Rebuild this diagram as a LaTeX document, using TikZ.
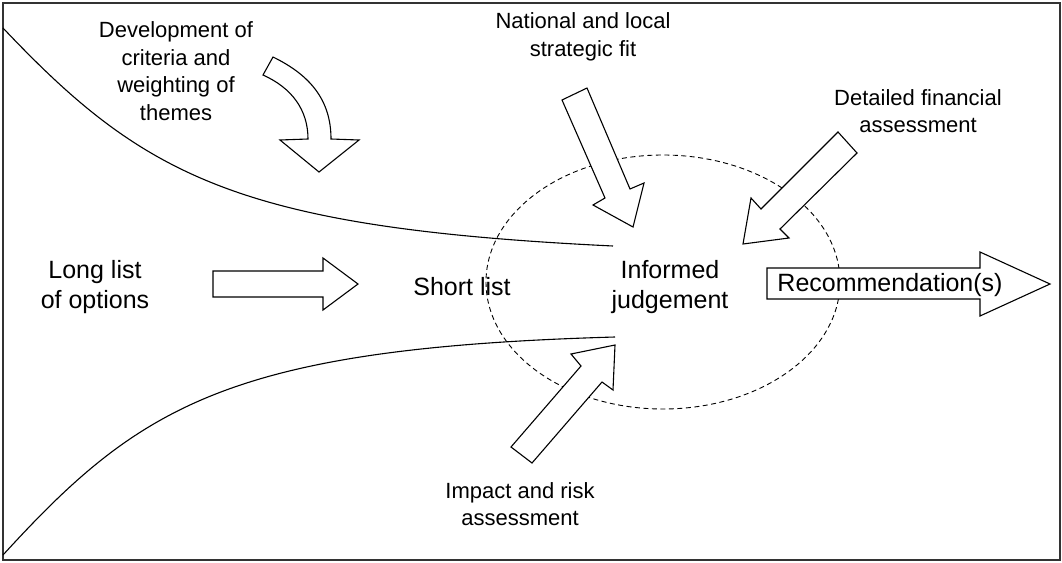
\documentclass[tikz,border=0pt]{standalone}
\usepackage{fontspec}
\setmainfont{Liberation Sans}
\begin{document}
\begin{tikzpicture}[x=1pt,y=-1pt,line join=miter,
  blockarrow/.style={draw,fill=white,line width=1.1pt},
  flow/.style={line width=1.1pt},
  zone/.style={line width=0.9pt,dash pattern=on 5pt off 3.5pt},
  lbl/.style={align=center,inner sep=0pt,font=\fontsize{22}{27.5}\selectfont},
  big/.style={align=center,inner sep=0pt,font=\fontsize{25}{30}\selectfont}]
\useasboundingbox (0,0) rectangle (1062,562);
\draw[line width=1.6pt,draw=black!80] (3,3) rectangle (1060,560);

% dashed zone
\draw[zone] (663,282) ellipse [x radius=177,y radius=127];

% funnel curves
\coordinate (tl) at (3,28);
\coordinate (te) at (613,246);
\coordinate (bl) at (3,555);
\coordinate (be) at (615,337);
\draw[flow] (tl) .. controls (145,178) and (240,228) .. (te);
\draw[flow] (bl) .. controls (140,405) and (230,348) .. (be);

% curved arrow
\draw[blockarrow] (273,57) .. controls (310,75) and (331,100) .. (331,139)
  -- (359,140) -- (319,172) -- (280,140) -- (308,139)
  .. controls (308,110) and (292,88) .. (263,75) -- cycle;

% national arrow
\draw[blockarrow] (562,100) -- (587,88) -- (630,189) -- (644,183) -- (633,227)
  -- (593,205) -- (605,198) -- cycle;

% financial arrow
\draw[blockarrow] (838,132) -- (857,153) -- (780,229) -- (789,238) -- (743,244)
  -- (751,198) -- (761,209) -- cycle;

% impact arrow
\draw[blockarrow] (511,447) -- (581,366) -- (571,354) -- (615,345) -- (613,390)
  -- (602,382) -- (532,463) -- cycle;

% long list arrow
\draw[blockarrow] (213,271) -- (323,271) -- (323,258) -- (358,284) -- (323,310)
  -- (323,297) -- (213,297) -- cycle;

% recommendation arrow
\draw[blockarrow] (767,268) -- (980,268) -- (980,252) -- (1050,284) -- (980,316)
  -- (980,299) -- (767,299) -- cycle;

% labels
\node[lbl] (dev) at (176,71) {Development of\\criteria and\\weighting of\\themes};
\node[lbl] (nat) at (583,37) {National and local\\strategic fit};
\node[lbl] (fin) at (918,111) {Detailed financial\\assessment};
\node[lbl] (imp) at (520,504) {Impact and risk\\assessment};
\node[big] (long) at (95,287) {Long list\\of options};
\node[big] (short) at (462,287) {Short list};
\node[big] (inf) at (670,287) {Informed\\judgement};
\node[big] (rec) at (890,285) {Recommendation(s)};
\end{tikzpicture}
\end{document}
